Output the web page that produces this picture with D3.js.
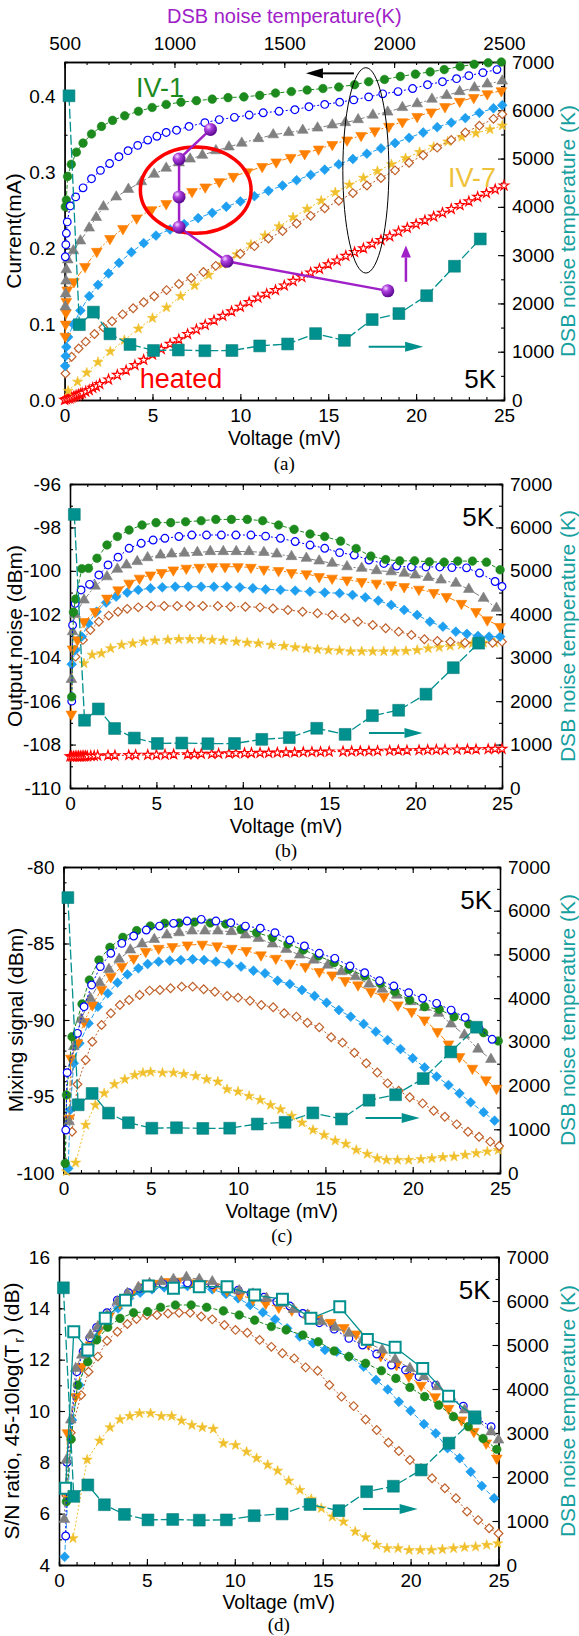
<!DOCTYPE html>
<html>
<head>
<meta charset="utf-8">
<title>SIS mixer: IV, noise, mixing signal, S/N</title>
<script src="https://cdnjs.cloudflare.com/ajax/libs/d3/7.8.5/d3.min.js"></script>
<style>
  body { margin: 0; background: #fff; }
</style>
</head>
<body>
<div id="chart"></div>
<script>
// ---------- tick labels ----------
const voltTicks = [0, 5, 10, 15, 20, 25];
const tempTicks = [0, 1000, 2000, 3000, 4000, 5000, 6000, 7000];
const topTempTicks = [500, 1000, 1500, 2000, 2500];
const currentTicks = [0, 0.1, 0.2, 0.3, 0.4];
const noiseTicks = [-110, -108, -106, -104, -102, -100, -98, -96];
const mixTicks = [-100, -95, -90, -85, -80];
const snrTicks = [4, 6, 8, 10, 12, 14, 16];

// ---------- DSB noise temperature (right axis, all panels) ----------
const dsbV = [0.25, 0.84, 1.64, 2.58, 3.72, 5.06, 6.47, 7.98, 9.52, 11.1, 12.69, 14.28, 15.92, 17.5, 19.02, 20.6, 22.18, 23.65];
const dsbT = [6300, 1560, 1820, 1370, 1150, 1025, 1035, 1020, 1025, 1120, 1160, 1375, 1235, 1665, 1790, 2160, 2770, 3335];
// 45-10log(Tr) in panel (d), left axis
const snrTV = [0.38, 0.84, 1.64, 2.63, 3.78, 5.08, 6.51, 7.98, 9.56, 11.13, 12.71, 14.33, 15.97, 17.54, 19.12, 20.69, 22.16, 23.65];
const snrTR = [6.99, 13.09, 12.38, 13.61, 14.32, 14.87, 14.78, 14.84, 14.84, 14.52, 14.35, 13.61, 14.06, 12.79, 12.48, 11.66, 10.58, 9.77];

// ---------- (a) IV curves: [mV, mA] ----------
const ivGreen = [[0.04,0.255],[0.1,0.264],[0.17,0.295],[0.38,0.311],[0.67,0.327],[1.05,0.339],[1.53,0.351],[2.1,0.361],[2.73,0.369],[3.42,0.375],[4.2,0.381],[4.98,0.386],[5.78,0.39],[6.62,0.393],[7.5,0.395],[8.4,0.397],[9.3,0.399],[10.2,0.4],[11.1,0.402],[12.0,0.405],[12.9,0.407],[13.8,0.409],[14.7,0.411],[15.6,0.413],[16.5,0.416],[17.3,0.42],[18.2,0.423],[19.1,0.427],[19.96,0.43],[20.8,0.433],[21.6,0.436],[22.5,0.44],[23.3,0.443],[24.1,0.445],[24.85,0.446]];
const ivBlue = [[0.04,0.189],[0.07,0.205],[0.1,0.22],[0.15,0.235],[0.32,0.256],[0.63,0.268],[1.05,0.28],[1.53,0.292],[2.04,0.303],[2.56,0.312],[3.09,0.321],[3.61,0.329],[4.16,0.336],[4.73,0.343],[5.25,0.348],[5.78,0.353],[6.37,0.356],[7.08,0.361],[7.98,0.366],[8.8,0.37],[9.66,0.373],[10.5,0.376],[11.3,0.379],[12.2,0.381],[13.1,0.383],[13.9,0.387],[14.8,0.39],[15.65,0.393],[16.45,0.396],[17.3,0.4],[18.1,0.404],[18.97,0.407],[19.8,0.411],[20.65,0.416],[21.5,0.42],[22.3,0.424],[23.0,0.428],[23.8,0.432],[24.6,0.436]];
const ivGray = [[0.04,0.123],[0.06,0.14],[0.08,0.157],[0.1,0.172],[0.18,0.185],[0.5,0.197],[0.9,0.21],[1.4,0.227],[1.8,0.241],[2.21,0.255],[2.94,0.268],[3.63,0.278],[4.37,0.288],[5.1,0.298],[5.78,0.306],[6.51,0.313],[7.14,0.318],[7.84,0.323],[8.61,0.329],[9.35,0.334],[10.08,0.339],[11.03,0.345],[11.87,0.35],[12.75,0.353],[13.55,0.356],[14.39,0.359],[15.23,0.363],[15.97,0.366],[16.7,0.37],[17.54,0.376],[18.38,0.38],[19.22,0.386],[20.06,0.391],[20.9,0.397],[21.74,0.402],[22.48,0.407],[23.32,0.412],[24.05,0.417],[24.9,0.421]];
const ivOrange = [[0.04,0.084],[0.06,0.1],[0.08,0.115],[0.1,0.13],[0.15,0.145],[0.53,0.156],[1.16,0.176],[1.83,0.196],[2.58,0.213],[3.32,0.226],[4.1,0.24],[4.94,0.251],[5.78,0.259],[6.51,0.268],[7.25,0.275],[8.0,0.281],[8.8,0.288],[9.6,0.295],[10.4,0.301],[11.24,0.308],[12.04,0.314],[12.86,0.32],[13.66,0.325],[14.45,0.331],[15.23,0.337],[16.07,0.343],[16.87,0.349],[17.65,0.355],[18.45,0.361],[19.22,0.367],[20.06,0.374],[20.86,0.38],[21.64,0.387],[22.48,0.394],[23.28,0.399],[24.05,0.404],[24.85,0.408]];
const ivLightBlue = [[0.03,0.045],[0.06,0.058],[0.1,0.07],[0.2,0.083],[0.5,0.1],[0.9,0.118],[1.4,0.137],[1.9,0.152],[2.5,0.167],[3.1,0.181],[3.8,0.195],[4.5,0.207],[5.2,0.217],[6.0,0.225],[6.8,0.232],[7.6,0.24],[8.4,0.247],[9.2,0.255],[10.0,0.262],[10.8,0.269],[11.6,0.276],[12.4,0.283],[13.2,0.29],[14.0,0.297],[14.8,0.304],[15.6,0.311],[16.4,0.318],[17.2,0.325],[18.0,0.332],[18.8,0.339],[19.6,0.346],[20.4,0.353],[21.2,0.36],[22.0,0.366],[22.8,0.372],[23.6,0.379],[24.4,0.385],[24.9,0.389]];
const ivBrown = [[0.05,0.035],[0.4,0.057],[0.8,0.068],[1.2,0.077],[1.7,0.087],[2.2,0.096],[2.7,0.104],[3.3,0.113],[3.9,0.121],[4.5,0.129],[5.1,0.137],[5.8,0.145],[6.5,0.153],[7.2,0.161],[7.9,0.169],[8.6,0.177],[9.3,0.185],[10.0,0.193],[10.8,0.203],[11.6,0.213],[12.4,0.223],[13.2,0.233],[14.0,0.243],[14.8,0.253],[15.6,0.263],[16.4,0.273],[17.2,0.283],[18.0,0.293],[18.8,0.303],[19.6,0.313],[20.4,0.323],[21.2,0.333],[22.0,0.343],[22.8,0.353],[23.6,0.362],[24.4,0.371],[24.9,0.377]];
const ivYellow = [[0.2,0.012],[0.74,0.024],[1.26,0.036],[1.9,0.05],[2.6,0.064],[3.4,0.079],[4.2,0.094],[5.0,0.108],[5.8,0.122],[6.6,0.137],[7.4,0.151],[8.2,0.165],[9.0,0.179],[9.8,0.192],[10.6,0.205],[11.4,0.217],[12.2,0.229],[13.0,0.241],[13.8,0.252],[14.6,0.263],[15.4,0.274],[16.2,0.284],[17.0,0.293],[17.8,0.302],[18.6,0.311],[19.4,0.319],[20.2,0.327],[21.0,0.334],[21.8,0.341],[22.6,0.347],[23.4,0.352],[24.2,0.357],[24.9,0.362]];
const ivHeated = [[0,0],[0.1,0.001],[0.2,0.002],[0.3,0.002],[0.4,0.003],[0.5,0.004],[0.6,0.005],[0.7,0.006],[0.8,0.007],[0.9,0.008],[1.0,0.009],[1.2,0.011],[1.4,0.013],[1.6,0.016],[1.8,0.018],[2.0,0.021],[2.5,0.027],[3.0,0.033],[3.5,0.039],[4.0,0.046],[4.5,0.053],[5.0,0.06],[5.5,0.067],[6.0,0.074],[6.5,0.08],[7.0,0.087],[7.5,0.093],[8.0,0.099],[8.5,0.105],[9.0,0.111],[9.5,0.117],[10.0,0.123],[10.5,0.129],[11.0,0.135],[11.5,0.14],[12.0,0.145],[12.5,0.151],[13.0,0.157],[13.5,0.162],[14.0,0.168],[14.5,0.173],[15.0,0.179],[15.5,0.184],[16.0,0.19],[16.5,0.195],[17.0,0.2],[17.5,0.206],[18.0,0.211],[18.5,0.216],[19.0,0.222],[19.5,0.227],[20.0,0.232],[20.5,0.237],[21.0,0.242],[21.5,0.247],[22.0,0.252],[22.5,0.257],[23.0,0.262],[23.5,0.268],[24.0,0.273],[24.5,0.278],[25.0,0.283]];

// purple markers of panel (a): top axis temperature vs current
const sphereTemp = [1164, 1021, 1021, 1021, 1239, 1971];
const sphereCurrent = [0.357, 0.318, 0.268, 0.228, 0.183, 0.144];

// ---------- (b) output noise: [mV, dBm] ----------
const noiseGreen = [[0.1,-105.8],[0.2,-101.9],[0.32,-101.3],[0.68,-99.9],[1.07,-99.88],[1.56,-99.42],[2.14,-98.81],[2.74,-98.42],[3.42,-98.12],[4.17,-97.89],[4.98,-97.78],[5.83,-97.78],[6.69,-97.74],[7.59,-97.69],[8.44,-97.63],[9.34,-97.63],[10.26,-97.63],[11.15,-97.69],[12.07,-97.89],[12.97,-98.09],[13.89,-98.3],[14.74,-98.42],[15.66,-98.63],[16.56,-98.97],[17.41,-99.32],[18.27,-99.48],[19.08,-99.54],[19.94,-99.54],[20.79,-99.58],[21.65,-99.6],[22.44,-99.55],[23.29,-99.55],[24.1,-99.6],[24.89,-99.95]];
const noiseBlue = [[0.1,-106.0],[0.15,-102.5],[0.3,-101.5],[0.64,-100.88],[1.13,-100.62],[1.67,-100.19],[2.2,-99.73],[2.78,-99.37],[3.42,-98.96],[4.12,-98.73],[4.81,-98.58],[5.49,-98.5],[6.3,-98.42],[7.05,-98.35],[7.9,-98.35],[8.76,-98.35],[9.6,-98.35],[10.47,-98.35],[11.32,-98.4],[12.18,-98.5],[13.03,-98.65],[13.89,-98.81],[14.74,-98.96],[15.6,-99.16],[16.45,-99.27],[17.3,-99.5],[18.16,-99.66],[18.9,-99.78],[19.76,-99.82],[20.6,-99.82],[21.4,-99.82],[22.1,-99.85],[22.95,-99.86],[23.7,-100.1],[24.6,-100.49],[25.0,-100.72]];
const noiseGray = [[0.08,-105.0],[0.15,-102.8],[0.3,-102.0],[0.81,-101.34],[1.45,-100.7],[2.14,-100.27],[2.74,-99.92],[3.27,-99.73],[3.89,-99.57],[4.49,-99.39],[5.24,-99.27],[5.88,-99.22],[6.62,-99.18],[7.37,-99.15],[8.12,-99.11],[8.87,-99.11],[9.62,-99.11],[10.36,-99.11],[11.22,-99.15],[11.97,-99.22],[12.82,-99.34],[13.68,-99.42],[14.42,-99.54],[15.17,-99.65],[16.03,-99.81],[16.88,-99.88],[17.74,-99.99],[18.59,-100.04],[19.34,-100.11],[19.98,-100.19],[20.73,-100.3],[21.47,-100.42],[22.33,-100.57],[23.08,-100.85],[23.93,-101.26],[24.68,-101.72]];
const noiseOrange = [[0.08,-106.6],[0.15,-103.6],[0.43,-103.18],[0.81,-102.34],[1.45,-101.88],[2.14,-101.26],[2.78,-100.88],[3.42,-100.57],[4.02,-100.34],[4.66,-100.19],[5.3,-100.08],[5.98,-99.96],[6.73,-99.88],[7.48,-99.84],[8.23,-99.81],[8.97,-99.81],[9.72,-99.81],[10.47,-99.84],[11.22,-99.93],[12.07,-99.99],[12.82,-100.08],[13.68,-100.14],[14.42,-100.27],[15.17,-100.34],[16.03,-100.42],[16.88,-100.5],[17.74,-100.57],[18.59,-100.65],[19.34,-100.73],[20.19,-100.85],[21.05,-101.0],[21.79,-101.19],[22.65,-101.5],[23.5,-101.88],[24.15,-102.26],[24.89,-102.57]];
const noiseLightBlue = [[0.1,-104.3],[0.32,-103.64],[0.68,-103.03],[1.07,-102.41],[1.54,-101.88],[2.09,-101.46],[2.67,-101.19],[3.31,-101.0],[3.95,-100.88],[4.66,-100.8],[5.34,-100.76],[6.09,-100.73],[6.84,-100.73],[7.59,-100.73],[8.33,-100.73],[9.08,-100.73],[9.83,-100.76],[10.58,-100.8],[11.32,-100.85],[12.18,-100.88],[13.03,-100.91],[13.89,-100.96],[14.74,-101.0],[15.6,-101.03],[16.35,-101.11],[17.09,-101.22],[17.84,-101.37],[18.59,-101.57],[19.34,-101.8],[20.09,-102.03],[20.83,-102.34],[21.58,-102.57],[22.33,-102.8],[22.97,-102.9],[23.61,-103.0],[24.25,-103.03],[24.89,-103.03]];
const noiseBrown = [[0.32,-103.95],[0.75,-103.18],[1.18,-102.72],[1.67,-102.34],[2.24,-102.06],[2.78,-101.88],[3.31,-101.75],[3.95,-101.68],[4.7,-101.62],[5.45,-101.62],[6.2,-101.62],[6.94,-101.62],[7.69,-101.62],[8.55,-101.62],[9.3,-101.65],[10.15,-101.65],[11.0,-101.68],[11.75,-101.73],[12.61,-101.8],[13.46,-101.88],[14.32,-101.95],[15.17,-102.03],[15.92,-102.18],[16.67,-102.34],[17.52,-102.49],[18.27,-102.64],[19.02,-102.8],[19.76,-102.95],[20.51,-103.15],[21.26,-103.23],[22.01,-103.26],[22.86,-103.31],[23.72,-103.31],[24.46,-103.31],[25.0,-103.26]];
const noiseYellow = [[0.81,-104.26],[1.28,-103.87],[1.82,-103.8],[2.35,-103.57],[2.99,-103.41],[3.63,-103.34],[4.27,-103.26],[4.91,-103.21],[5.66,-103.18],[6.3,-103.15],[6.94,-103.15],[7.59,-103.15],[8.23,-103.18],[8.87,-103.21],[9.62,-103.26],[10.26,-103.31],[10.9,-103.34],[11.65,-103.41],[12.39,-103.46],[13.03,-103.52],[13.68,-103.57],[14.32,-103.62],[14.96,-103.65],[15.6,-103.67],[16.24,-103.71],[16.88,-103.71],[17.52,-103.71],[18.16,-103.71],[18.8,-103.71],[19.44,-103.69],[20.09,-103.65],[20.73,-103.57],[21.37,-103.52],[22.0,-103.46],[22.65,-103.41],[23.29,-103.34],[23.93,-103.31],[24.57,-103.31]];
const noiseHeated = [[0,-108.55],[0.1,-108.55],[0.2,-108.56],[0.3,-108.55],[0.4,-108.55],[0.5,-108.54],[0.6,-108.55],[0.7,-108.54],[0.8,-108.54],[0.9,-108.53],[1.0,-108.53],[1.2,-108.52],[1.4,-108.52],[1.6,-108.51],[2.2,-108.5],[2.6,-108.5],[3.4,-108.49],[3.8,-108.48],[4.5,-108.48],[5.0,-108.47],[5.5,-108.46],[6.0,-108.45],[6.8,-108.45],[7.2,-108.44],[7.6,-108.43],[8.2,-108.43],[8.6,-108.42],[9.2,-108.41],[9.6,-108.4],[10.1,-108.4],[10.5,-108.39],[11.0,-108.38],[11.5,-108.38],[12.0,-108.37],[12.5,-108.36],[13.0,-108.36],[13.5,-108.35],[14.0,-108.34],[14.5,-108.34],[15.0,-108.33],[15.8,-108.32],[16.3,-108.31],[16.8,-108.3],[17.3,-108.3],[17.8,-108.29],[18.5,-108.28],[19.0,-108.27],[19.5,-108.27],[20.2,-108.26],[20.7,-108.25],[21.2,-108.24],[21.7,-108.24],[22.4,-108.23],[23.0,-108.22],[23.5,-108.22],[24.2,-108.21],[24.6,-108.2],[25.0,-108.2]];

// ---------- (c) mixing signal: [mV, dBm] ----------
const mixBlue = [[0.13,-97.19],[0.21,-93.44],[0.8,-90.87],[1.18,-89.13],[1.61,-87.71],[2.11,-86.51],[2.71,-85.64],[3.34,-84.99],[4.02,-84.51],[4.74,-84.12],[5.5,-83.86],[6.3,-83.68],[7.08,-83.53],[7.89,-83.42],[8.73,-83.53],[9.58,-83.64],[10.42,-83.86],[11.27,-84.0],[12.11,-84.29],[12.96,-84.77],[13.8,-85.16],[14.65,-85.64],[15.54,-85.97],[16.41,-86.47],[17.25,-86.91],[18.1,-87.43],[18.92,-87.78],[19.77,-88.21],[20.57,-88.58],[21.37,-88.91],[22.2,-89.35],[23.0,-89.83],[23.8,-90.54],[24.55,-91.26]];
const mixGreen = [[0.1,-99.37],[0.17,-94.9],[0.49,-91.09],[1.06,-88.95],[1.48,-87.39],[2.03,-86.08],[2.66,-85.25],[3.4,-84.6],[4.19,-84.16],[4.97,-83.86],[5.79,-83.68],[6.62,-83.66],[7.5,-83.6],[8.41,-83.66],[9.3,-83.73],[10.17,-84.07],[11.06,-84.29],[11.97,-84.6],[12.85,-85.03],[13.74,-85.42],[14.61,-85.82],[15.5,-86.25],[16.34,-86.69],[17.25,-87.12],[18.14,-87.6],[18.98,-88.15],[19.83,-88.69],[20.68,-89.13],[21.52,-89.3],[22.37,-89.78],[23.21,-90.26],[24.06,-90.83],[24.9,-91.37]];
const mixGray = [[0.32,-96.65],[0.59,-91.74],[1.01,-89.95],[1.54,-88.58],[2.07,-87.56],[2.6,-86.69],[3.19,-86.03],[3.83,-85.42],[4.5,-85.03],[5.2,-84.73],[5.92,-84.44],[6.62,-84.29],[7.36,-84.18],[8.1,-84.18],[8.84,-84.18],[9.62,-84.22],[10.42,-84.44],[11.16,-84.66],[11.97,-85.03],[12.75,-85.38],[13.53,-85.75],[14.33,-86.08],[15.14,-86.41],[15.92,-86.84],[16.72,-87.17],[17.5,-87.65],[18.25,-87.99],[19.09,-88.37],[19.87,-88.8],[20.68,-89.17],[21.48,-89.56],[22.2,-90.26],[22.96,-90.98],[23.74,-91.9],[24.48,-92.57]];
const mixOrange = [[0.32,-96.43],[0.42,-92.5],[0.8,-91.5],[1.18,-90.11],[1.65,-89.02],[2.18,-87.99],[2.71,-87.17],[3.34,-86.51],[4.02,-85.97],[4.71,-85.53],[5.45,-85.32],[6.24,-85.21],[7.1,-85.1],[7.95,-85.05],[8.8,-85.16],[9.64,-85.32],[10.47,-85.47],[11.31,-85.75],[12.16,-85.97],[13.0,-86.3],[13.85,-86.51],[14.65,-86.84],[15.39,-87.06],[16.13,-87.43],[16.87,-87.71],[17.61,-88.15],[18.35,-88.47],[19.15,-89.02],[19.94,-89.45],[20.68,-90.0],[21.42,-90.76],[22.05,-91.57],[22.68,-92.4],[23.42,-93.16],[24.2,-93.92],[24.8,-94.47]];
const mixLightBlue = [[0.27,-99.7],[0.38,-95.88],[0.59,-92.83],[0.91,-91.52],[1.44,-90.22],[1.97,-89.13],[2.54,-88.26],[3.09,-87.56],[3.66,-87.02],[4.29,-86.62],[4.82,-86.34],[5.45,-86.19],[6.09,-86.12],[6.72,-86.08],[7.4,-86.03],[8.05,-86.08],[8.73,-86.19],[9.47,-86.3],[10.17,-86.51],[10.88,-86.78],[11.54,-86.95],[12.26,-87.43],[12.96,-87.65],[13.66,-88.04],[14.38,-88.43],[15.07,-88.87],[15.77,-89.35],[16.45,-89.78],[17.19,-90.26],[17.89,-90.76],[18.56,-91.31],[19.3,-91.9],[20.0,-92.5],[20.68,-93.1],[21.37,-93.7],[22.05,-94.25],[22.68,-94.79],[23.32,-95.38],[24.06,-96.03],[24.69,-96.58]];
const mixBrown = [[0.49,-97.3],[0.8,-94.2],[1.27,-92.61],[1.65,-91.42],[2.18,-90.33],[2.71,-89.56],[3.23,-89.02],[3.76,-88.69],[4.36,-88.37],[4.93,-88.08],[5.52,-88.04],[6.13,-87.93],[6.77,-87.82],[7.4,-87.82],[8.03,-87.99],[8.67,-88.15],[9.37,-88.43],[10.0,-88.54],[10.68,-88.74],[11.33,-89.02],[12.01,-89.17],[12.64,-89.56],[13.34,-89.78],[13.97,-90.18],[14.65,-90.48],[15.33,-91.13],[15.98,-91.48],[16.66,-92.14],[17.34,-92.83],[17.97,-93.43],[18.56,-94.14],[19.2,-94.62],[19.83,-95.05],[20.57,-95.45],[21.2,-95.93],[21.84,-96.32],[22.52,-96.82],[23.17,-97.3],[23.8,-97.63],[24.44,-97.95],[24.95,-98.24]];
const mixYellow = [[0.17,-99.9],[0.7,-99.33],[1.27,-96.86],[1.82,-95.56],[2.33,-94.79],[2.92,-94.2],[3.51,-93.88],[4.08,-93.6],[4.55,-93.45],[4.99,-93.4],[5.67,-93.45],[6.3,-93.45],[6.89,-93.53],[7.57,-93.66],[8.2,-93.88],[8.84,-94.03],[9.37,-94.53],[10.0,-94.68],[10.63,-94.97],[11.27,-95.23],[11.86,-95.56],[12.43,-95.84],[13.07,-96.27],[13.66,-96.71],[14.29,-97.19],[14.93,-97.52],[15.56,-97.89],[16.17,-98.1],[16.77,-98.5],[17.4,-98.76],[17.97,-99.04],[18.5,-99.15],[19.13,-99.15],[19.77,-99.15],[20.47,-99.1],[21.1,-99.04],[21.73,-98.97],[22.37,-98.93],[23.0,-98.82],[23.64,-98.71],[24.27,-98.6],[24.9,-98.5]];

// ---------- (d) S/N ratio: [mV, dB] ----------
const snrGray = [[0.3,5.78],[0.42,8.09],[0.67,9.65],[0.95,11.66],[1.3,12.18],[1.79,12.96],[2.21,13.29],[2.73,13.74],[3.32,14.26],[3.89,14.58],[4.52,14.82],[5.15,14.97],[5.82,15.04],[6.51,15.13],[7.25,15.21],[7.98,15.13],[8.72,15.04],[9.45,14.84],[10.25,14.69],[11.03,14.56],[11.81,14.39],[12.61,14.19],[13.34,13.96],[14.14,13.74],[14.92,13.48],[15.71,13.26],[16.49,13.03],[17.27,12.77],[18.38,12.38],[19.12,12.01],[19.96,11.66],[20.76,11.34],[21.53,10.95],[22.27,10.56],[23.07,10.04],[23.78,9.65],[24.58,9.19],[25.0,8.87]];
const snrBlue = [[0.38,5.13],[0.45,8.0],[1.01,11.53],[1.37,12.31],[1.75,12.85],[2.14,13.26],[2.73,13.83],[3.32,14.32],[3.95,14.61],[4.58,14.78],[5.25,14.91],[5.92,14.95],[6.62,14.99],[7.31,14.99],[7.98,14.96],[8.72,14.92],[9.45,14.81],[10.19,14.71],[10.92,14.58],[11.66,14.43],[12.39,14.26],[13.13,14.09],[13.87,13.8],[14.81,13.44],[15.65,13.19],[16.49,12.83],[17.27,12.57],[18.07,12.22],[18.91,11.79],[19.71,11.6],[20.48,11.34],[21.43,11.01],[22.23,10.56],[23.0,10.19],[23.78,9.71],[24.58,9.39]];
const snrOrange = [[0.4,6.8],[0.48,9.15],[0.95,10.56],[1.3,11.73],[1.79,12.57],[2.27,13.16],[2.84,13.7],[3.47,14.19],[4.1,14.58],[4.73,14.84],[5.42,14.97],[6.09,15.04],[6.76,15.06],[7.46,14.99],[8.15,14.95],[8.82,14.84],[9.56,14.69],[10.29,14.52],[11.03,14.35],[11.76,14.19],[12.5,14.04],[13.24,13.93],[13.97,13.8],[14.71,13.6],[15.45,13.45],[16.2,13.25],[16.9,13.0],[17.6,12.6],[18.3,12.15],[19.2,11.8],[19.9,11.35],[20.6,11.0],[21.4,10.55],[22.16,10.1],[22.9,9.65],[23.6,9.2],[24.3,8.75],[24.9,8.16]];
const snrLightBlue = [[0.32,4.32],[0.74,9.65],[1.16,11.01],[1.58,12.12],[2.14,12.87],[2.73,13.54],[3.36,14.0],[3.99,14.39],[4.62,14.61],[5.29,14.74],[5.99,14.82],[6.62,14.87],[7.31,14.87],[7.98,14.82],[8.72,14.74],[9.5,14.56],[10.19,14.39],[10.88,14.13],[11.6,13.84],[12.29,13.57],[12.98,13.22],[13.7,12.9],[14.45,12.64],[15.13,12.38],[15.8,12.31],[16.49,12.12],[17.33,11.73],[18.03,11.21],[18.7,10.84],[19.33,10.36],[20.0,10.01],[20.76,9.49],[21.43,9.13],[22.1,8.55],[22.79,8.16],[23.42,7.63],[24.05,7.08],[24.75,6.6]];
const snrGreen = [[0.42,6.47],[0.69,8.9],[1.05,11.01],[1.64,11.92],[2.14,12.77],[2.77,13.26],[3.47,13.61],[4.24,13.83],[5.04,13.87],[5.78,14.04],[6.62,14.13],[7.52,14.13],[8.4,14.04],[9.35,13.9],[10.25,13.74],[11.13,13.54],[12.08,13.29],[12.92,13.16],[13.87,12.96],[14.75,12.7],[15.65,12.34],[16.49,12.12],[17.44,11.86],[18.34,11.57],[19.16,11.27],[19.96,10.92],[20.8,10.56],[21.6,10.23],[22.44,9.78],[23.28,9.39],[24.12,8.93],[24.9,8.51]];
const snrBrown = [[0.42,6.7],[0.67,9.15],[1.26,10.62],[1.68,11.53],[2.21,12.12],[2.73,12.74],[3.32,13.09],[3.89,13.39],[4.41,13.58],[5.0,13.74],[5.57,13.74],[6.2,13.8],[6.83,13.83],[7.46,13.83],[8.09,13.68],[8.72,13.57],[9.41,13.35],[10.04,13.16],[10.71,13.05],[11.41,12.77],[12.08,12.5],[12.71,12.25],[13.38,12.05],[14.03,11.7],[14.71,11.57],[15.38,11.01],[16.07,10.56],[16.76,10.19],[17.44,9.67],[18.07,9.26],[18.74,8.77],[19.33,8.44],[19.96,8.09],[20.59,7.77],[21.22,7.38],[21.95,6.99],[22.58,6.6],[23.21,6.08],[23.84,5.75],[24.47,5.43],[25.0,5.23]];
const snrYellow = [[0.8,5.04],[1.6,8.1],[2.31,8.84],[2.9,9.36],[3.47,9.67],[4.03,9.8],[4.58,9.91],[5.21,9.91],[5.82,9.8],[6.41,9.8],[6.97,9.62],[7.56,9.45],[8.15,9.36],[8.78,9.3],[9.35,8.74],[10.04,8.67],[10.67,8.41],[11.24,8.16],[11.87,7.9],[12.44,7.67],[13.07,7.28],[13.7,6.92],[14.35,6.57],[14.92,6.21],[15.55,5.88],[16.18,5.69],[16.85,5.3],[17.44,5.08],[18.07,4.78],[18.66,4.65],[19.29,4.65],[19.92,4.58],[20.55,4.58],[21.18,4.58],[21.81,4.61],[22.44,4.65],[23.07,4.69],[23.7,4.71],[24.33,4.78],[24.96,4.84]];

// ---------- styles ----------
const FONT = "'Liberation Sans', Arial, Helvetica, sans-serif";
const SERIF = "'Liberation Serif', 'Times New Roman', serif";
const TEAL = "#00908e";
const styles = {
    green:     { color: "#1c8a1c", shape: "circle",       size: 58, open: false, dash: "4,2" },
    blue:      { color: "#0000ff", shape: "circle",       size: 46, open: true,  dash: "2,2" },
    gray:      { color: "#808080", shape: "triangle",     size: 50, open: false, dash: "6,2,2,2" },
    orange:    { color: "#ff8000", shape: "triangleDown", size: 50, open: false, dash: "6,2,2,2,2,2" },
    lightblue: { color: "#1e9ff0", shape: "diamond",      size: 48, open: false, dash: "5,2" },
    brown:     { color: "#c0602a", shape: "diamond",      size: 38, open: true,  dash: "2,2" },
    yellow:    { color: "#f0c02c", shape: "star",         size: 32, open: false, dash: "2,2" },
    red:       { color: "#ff0000", shape: "star",         size: 28, open: true,  dash: "2,2" }
};
const symbolTypes = { circle: d3.symbolCircle, triangle: d3.symbolTriangle, triangleDown: d3.symbolTriangle,
    diamond: d3.symbolSquare, star: d3.symbolStar, square: d3.symbolSquare };
const symbolRot = { triangleDown: 180, diamond: 45 };

// panel layout (xt / lt: offsets of "Voltage (mV)" and panel letter below the axis)
const panels = [
    { key: "a", left: 64.6, right: 504, top: 62, bottom: 400, yDomain: [0, 0.446], yTicks: currentTicks, yMinor: 0.05,
      fmt: d => d.toFixed(1), ylabel: "Current(mA)", ylx: 14, label: "(a)", xt: 45, lt: 70,
      series: [["red", ivHeated], ["yellow", ivYellow], ["brown", ivBrown], ["lightblue", ivLightBlue],
               ["orange", ivOrange], ["gray", ivGray], ["green", ivGreen], ["blue", ivBlue]] },
    { key: "b", left: 70, right: 502, top: 484, bottom: 788, yDomain: [-110, -96], yTicks: noiseTicks, yMinor: 1,
      fmt: d => String(d), ylabel: "Output noise (dBm)", ylx: 15, label: "(b)", xt: 45, lt: 69,
      series: [["red", noiseHeated], ["yellow", noiseYellow], ["brown", noiseBrown], ["lightblue", noiseLightBlue],
               ["orange", noiseOrange], ["gray", noiseGray], ["blue", noiseBlue], ["green", noiseGreen]] },
    { key: "c", left: 63.5, right: 500, top: 867, bottom: 1173, yDomain: [-100, -80], yTicks: mixTicks, yMinor: 1,
      fmt: d => String(d), ylabel: "Mixing signal (dBm)", ylx: 16, label: "(c)", xt: 45, lt: 69,
      series: [["yellow", mixYellow], ["brown", mixBrown], ["lightblue", mixLightBlue], ["orange", mixOrange],
               ["gray", mixGray], ["green", mixGreen], ["blue", mixBlue]] },
    { key: "d", left: 59, right: 498.5, top: 1257, bottom: 1565, yDomain: [4, 16], yTicks: snrTicks, yMinor: 1,
      fmt: d => String(d), ylabel: null, ylx: 12, label: "(d)", xt: 44, lt: 66,
      series: [["yellow", snrYellow], ["brown", snrBrown], ["lightblue", snrLightBlue], ["orange", snrOrange],
               ["green", snrGreen], ["blue", snrBlue], ["gray", snrGray]] }
];

const svg = d3.select("#chart").append("svg")
    .attr("width", 579).attr("height", 1636)
    .style("background", "#fff");

// 3D-looking purple balls
const defs = svg.append("defs");
const grad = defs.append("radialGradient").attr("id", "ball").attr("cx", "35%").attr("cy", "30%").attr("r", "70%");
grad.append("stop").attr("offset", "0%").attr("stop-color", "#f4dcff");
grad.append("stop").attr("offset", "35%").attr("stop-color", "#b040e0");
grad.append("stop").attr("offset", "100%").attr("stop-color", "#5a0890");

function styleAxis(sel) {
    sel.attr("font-size", 19).attr("font-family", FONT);
    sel.select(".domain").attr("stroke-width", 1.3);
    sel.selectAll(".tick line").attr("stroke-width", 1.1);
    sel.selectAll(".tick text").attr("fill", "#000");
}
// tick marks only, no text nodes
function ticksOnly(sel) {
    styleAxis(sel);
    sel.selectAll(".tick text").remove();
}

function drawSeries(g, x, y, data, st) {
    g.append("path").datum(data)
        .attr("fill", "none").attr("stroke", st.color).attr("stroke-width", 1)
        .attr("stroke-dasharray", st.dash)
        .attr("d", d3.line().x(d => x(d[0])).y(d => y(d[1])));
    const sym = d3.symbol().type(symbolTypes[st.shape]).size(st.size)();
    g.append("g").selectAll("path").data(data).join("path")
        .attr("d", sym)
        .attr("transform", d => `translate(${x(d[0])},${y(d[1])}) rotate(${symbolRot[st.shape] || 0})`)
        .attr("fill", st.open ? "#fff" : st.color)
        .attr("stroke", st.color)
        .attr("stroke-width", st.open ? 1.2 : 0.6);
}

function arrow(g, x1, y1, x2, y2, color, w, headLen, headW) {
    const ang = Math.atan2(y2 - y1, x2 - x1);
    const bx = x2 - headLen * Math.cos(ang), by = y2 - headLen * Math.sin(ang);
    g.append("line").attr("x1", x1).attr("y1", y1).attr("x2", bx).attr("y2", by)
        .attr("stroke", color).attr("stroke-width", w);
    const px = -Math.sin(ang) * headW, py = Math.cos(ang) * headW;
    g.append("path").attr("d", `M${x2},${y2}L${bx + px},${by + py}L${bx - px},${by - py}Z`).attr("fill", color);
}

function drawPanel(p) {
    const g = svg.append("g");
    const x = d3.scaleLinear().domain([0, 25]).range([p.left, p.right]);
    const y = d3.scaleLinear().domain(p.yDomain).range([p.bottom, p.top]);
    const yT = d3.scaleLinear().domain([0, 7000]).range([p.bottom, p.top]);

    // minor ticks
    const minorX = d3.range(0, 25.001, 1);
    const minorY = d3.range(p.yDomain[0], p.yDomain[1] + 1e-6, p.yMinor);
    const minorT = d3.range(0, 7001, 500);
    g.append("g").attr("transform", `translate(0,${p.bottom})`)
        .call(d3.axisBottom(x).tickValues(minorX).tickSize(-3)).call(ticksOnly);
    g.append("g").attr("transform", `translate(${p.left},0)`)
        .call(d3.axisLeft(y).tickValues(minorY).tickSize(-3)).call(ticksOnly);
    g.append("g").attr("transform", `translate(${p.right},0)`)
        .call(d3.axisRight(yT).tickValues(minorT).tickSize(-3)).call(ticksOnly);

    // major ticks + labels
    g.append("g").attr("transform", `translate(0,${p.bottom})`)
        .call(d3.axisBottom(x).tickValues(voltTicks).tickSizeInner(-6).tickSizeOuter(0).tickPadding(9).tickFormat(d => d))
        .call(styleAxis);
    g.append("g").attr("transform", `translate(${p.left},0)`)
        .call(d3.axisLeft(y).tickValues(p.yTicks).tickSizeInner(-6).tickSizeOuter(0).tickPadding(9).tickFormat(p.fmt))
        .call(styleAxis);
    g.append("g").attr("transform", `translate(${p.right},0)`)
        .call(d3.axisRight(yT).tickValues(tempTicks).tickSizeInner(-6).tickSizeOuter(0).tickPadding(8).tickFormat(d => d))
        .call(styleAxis);

    if (p.key === "a") {
        // top axis: DSB noise temperature
        const t = d3.scaleLinear().domain([500, 2500]).range([p.left, p.right]);
        g.append("g").attr("transform", `translate(0,${p.top})`)
            .call(d3.axisTop(t).tickValues(d3.range(500, 2501, 100)).tickSize(-3)).call(ticksOnly);
        g.append("g").attr("transform", `translate(0,${p.top})`)
            .call(d3.axisTop(t).tickValues(topTempTicks).tickSizeInner(-6).tickSizeOuter(0).tickPadding(12).tickFormat(d => d))
            .call(styleAxis);
        g.append("text").attr("x", (p.left + p.right) / 2).attr("y", 23).attr("text-anchor", "middle")
            .attr("font-family", FONT).attr("font-size", 20).attr("fill", "#a020c8")
            .text("DSB noise temperature(K)");
        p.tScale = t;
    } else {
        g.append("g").attr("transform", `translate(0,${p.top})`)
            .call(d3.axisTop(x).tickValues(minorX).tickSize(-3)).call(ticksOnly);
        g.append("g").attr("transform", `translate(0,${p.top})`)
            .call(d3.axisTop(x).tickValues(voltTicks).tickSizeInner(-6).tickSizeOuter(0))
            .call(ticksOnly);
    }

    // axis titles
    const midX = (p.left + p.right) / 2, midY = (p.top + p.bottom) / 2;
    g.append("text").attr("x", midX).attr("y", p.bottom + p.xt).attr("text-anchor", "middle")
        .attr("font-family", FONT).attr("font-size", 19.5).text("Voltage (mV)");
    g.append("text").attr("x", midX).attr("y", p.bottom + p.lt).attr("text-anchor", "middle")
        .attr("font-family", SERIF).attr("font-size", 19).text(p.label);
    const yl = g.append("text").attr("transform", `translate(${p.ylx},${midY}) rotate(-90)`)
        .attr("text-anchor", "middle").attr("dy", "0.35em")
        .attr("font-family", FONT).attr("font-size", 21);
    if (p.ylabel) {
        yl.text(p.ylabel);
    } else {
        yl.append("tspan").text("S/N ratio, 45-10log(T");
        yl.append("tspan").attr("dx", 2).attr("dy", 5).attr("font-size", 14).text("r");
        yl.append("tspan").attr("dx", 3).attr("dy", -5).text(") (dB)");
    }
    g.append("text").attr("transform", `translate(568,${midY}) rotate(-90)`)
        .attr("text-anchor", "middle").attr("dy", "0.35em")
        .attr("font-family", FONT).attr("font-size", 21).attr("fill", "#17a0a0")
        .text("DSB noise temperature (K)");

    // curves
    p.series.forEach(([k, data]) => drawSeries(g, x, y, data, styles[k]));

    // open squares of 45-10log(Tr)
    if (p.key === "d") {
        const sq = d3.zip(snrTV, snrTR);
        g.append("path").datum(sq).attr("fill", "none").attr("stroke", TEAL).attr("stroke-width", 1.3)
            .attr("d", d3.line().x(d => x(d[0])).y(d => y(d[1])));
        g.append("g").selectAll("path").data(sq).join("path")
            .attr("d", d3.symbol().type(d3.symbolSquare).size(120)())
            .attr("transform", d => `translate(${x(d[0])},${y(d[1])})`)
            .attr("fill", "#fff").attr("stroke", TEAL).attr("stroke-width", 2);
    }

    // DSB noise temperature on the right axis
    const dsb = d3.zip(dsbV, dsbT);
    g.append("path").datum(dsb).attr("fill", "none").attr("stroke", TEAL).attr("stroke-width", 1.3)
        .attr("stroke-dasharray", "10,3")
        .attr("d", d3.line().x(d => x(d[0])).y(d => yT(d[1])));
    g.append("g").selectAll("path").data(dsb).join("path")
        .attr("d", d3.symbol().type(d3.symbolSquare).size(140)())
        .attr("transform", d => `translate(${x(d[0])},${yT(d[1])})`)
        .attr("fill", TEAL).attr("stroke", "#0a7d7b").attr("stroke-width", 0.6);

    // "5K"
    const kY = p.key === "a" ? p.bottom - 12 : p.top + 42;
    g.append("text").attr("x", p.right - 8).attr("y", kY).attr("text-anchor", "end")
        .attr("font-family", FONT).attr("font-size", 26).text("5K");

    // teal arrow towards the right axis
    const arrowT = { a: 1104, b: 1266, c: 1258, d: 1273 }[p.key];
    arrow(g, x(17.3), yT(arrowT), x(20.4), yT(arrowT), TEAL, 2, 18, 5);

    return { g, x, y, yT };
}

const drawn = panels.map(drawPanel);

// ---------- annotations in panel (a) ----------
(function () {
    const { g, x, y } = drawn[0];
    const t = panels[0].tScale;

    // black ellipse around the curves with its arrow to the left axis
    g.append("ellipse").attr("cx", x(17.14)).attr("cy", y(0.303))
        .attr("rx", x(17.14 + 1.31) - x(17.14)).attr("ry", y(0.303) - y(0.303 + 0.1355))
        .attr("fill", "none").attr("stroke", "#000").attr("stroke-width", 1);
    arrow(g, x(16.46), y(0.431), x(13.73), y(0.431), "#000", 2, 17, 5);

    // red ellipse
    g.append("ellipse").attr("cx", x(7.46)).attr("cy", y(0.277))
        .attr("rx", x(7.46 + 3.15) - x(7.46)).attr("ry", y(0.277) - y(0.277 + 0.057))
        .attr("fill", "none").attr("stroke", "#ff0000").attr("stroke-width", 3.5);

    // purple balls, placed against top (temperature) axis and current axis
    const balls = d3.zip(sphereTemp, sphereCurrent);
    g.append("path").datum(balls).attr("fill", "none").attr("stroke", "#a020c8").attr("stroke-width", 2.5)
        .attr("d", d3.line().x(d => t(d[0])).y(d => y(d[1])));
    g.append("g").selectAll("circle").data(balls).join("circle")
        .attr("cx", d => t(d[0])).attr("cy", d => y(d[1])).attr("r", 6.5)
        .attr("fill", "url(#ball)");
    arrow(g, x(19.42), y(0.156), x(19.42), y(0.204), "#a020c8", 2.5, 12, 5);

    const lbl = (txt, xv, yv, color) => g.append("text")
        .attr("x", x(xv)).attr("y", y(yv)).attr("text-anchor", "middle")
        .attr("font-family", FONT).attr("font-size", 27).attr("fill", color).text(txt);
    lbl("IV-1", 5.43, 0.4, styles.green.color);
    lbl("IV-7", 23.18, 0.281, "#eec23a");
    lbl("heated", 6.62, 0.016, "#ff0000");
})();
</script>
</body>
</html>
